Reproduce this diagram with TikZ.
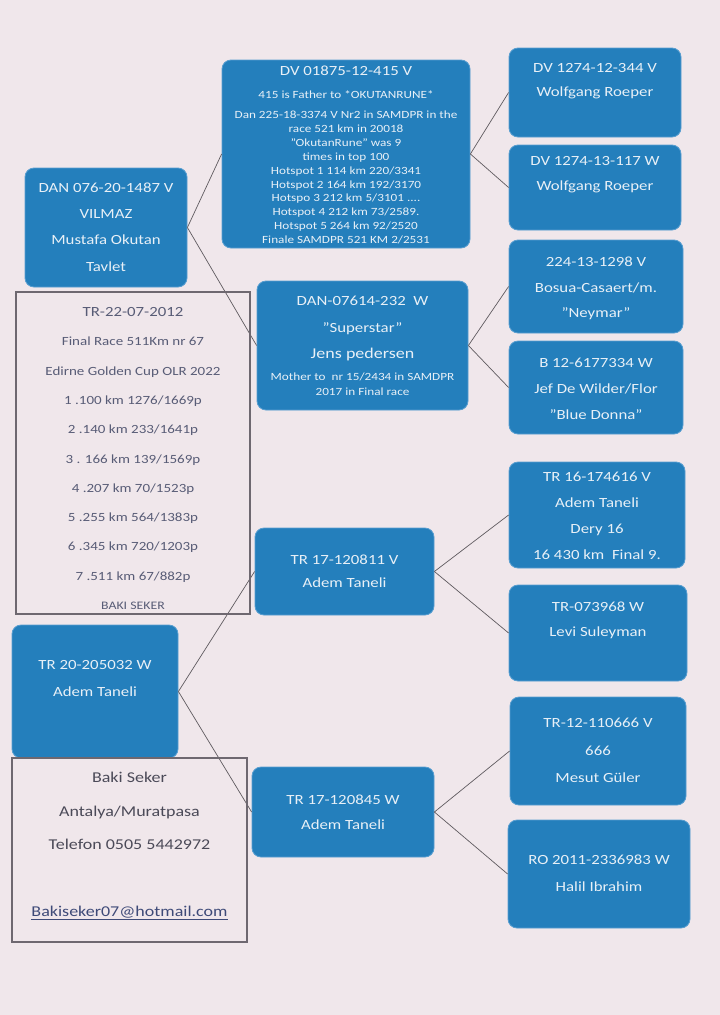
\documentclass[tikz,border=0pt]{standalone}
\usepackage{fontspec}
\setmainfont{Carlito}[FakeStretch=1.2]
\definecolor{paper}{RGB}{240,231,235}
\definecolor{boxblue}{RGB}{36,127,188}
\definecolor{boxrim}{RGB}{88,158,208}
\definecolor{boxtext}{RGB}{232,240,247}
\definecolor{inkgray}{RGB}{88,92,118}
\definecolor{contactgray}{RGB}{75,74,88}
\definecolor{mailblue}{RGB}{62,74,120}
\definecolor{framegray}{RGB}{110,104,112}
\definecolor{linkgray}{RGB}{95,90,95}
\begin{document}
\begin{tikzpicture}[x=1pt,y=-1pt,
  pbox/.style 2 args={rectangle,rounded corners=9pt,fill=boxblue,draw=boxrim,line width=0.8pt,
    minimum width=#1pt,minimum height=#2pt,inner sep=0pt},
  frame/.style 2 args={rectangle,draw=framegray,line width=1.1pt,
    minimum width=#1pt,minimum height=#2pt,inner sep=0pt},
  btext/.style={text=boxtext,align=center,inner sep=0pt,font=\fontsize{14}{#1}\selectfont},
  btext/.default=25,
  fine/.style={font=\fontsize{11}{#1}\selectfont},
  fine/.default=13.9,
  ink/.style={text=inkgray,align=center,inner sep=0pt,font=\fontsize{12.5}{29.3}\selectfont},
  link/.style={draw=linkgray,line width=0.7pt}]
  \useasboundingbox (0,0) rectangle (720,1015);
  \fill[paper] (0,0) rectangle (720,1015);

  % blue boxes
  \node[pbox={248}{188}] (tdv) at (346,154) {};
  \node[pbox={162}{119}] (dan076) at (106,227.5) {};
  \node[pbox={211}{129}] (dan07614) at (362.5,345.5) {};
  \node[pbox={172}{89}] (dv12) at (595,92.5) {};
  \node[pbox={172}{85}] (dv13) at (595,187.5) {};
  \node[pbox={174}{93}] (n224) at (596,286.5) {};
  \node[pbox={174}{93}] (b12) at (596,387.5) {};
  \node[pbox={176}{106}] (tr16) at (597,515) {};
  \node[pbox={178}{96}] (tr07) at (598,633) {};
  \node[pbox={179}{87}] (tr811) at (344.5,571.5) {};
  \node[pbox={166}{133}] (tr20) at (95,691.5) {};
  \node[pbox={182}{90}] (tr845) at (343,812) {};
  \node[pbox={176}{108}] (tr12) at (598,751) {};
  \node[pbox={182}{108}] (ro) at (599,874) {};

  % texts in the boxes
  \node[btext] (tdv-a) at (346,71) {DV 01875-12-415 V};
  \node[btext,fine] (tdv-b) at (346,167.5) {415 is Father to *OKUTANRUNE*\\[6pt]
    Dan 225-18-3374 V Nr2 in SAMDPR in the\\ race 521 km in 20018\\
    "OkutanRune" was 9\\ times in top 100\\ Hotspot 1 114 km 220/3341\\
    Hotspot 2 164 km 192/3170\\ Hotspo 3 212 km 5/3101 ....\\
    Hotspot 4 212 km 73/2589.\\ Hotspot 5 264 km 92/2520\\ Finale SAMDPR 521 KM 2/2531};
  \node[btext=26.3] (dan076-t) at (106,227) {DAN 076-20-1487 V\\ VILMAZ\\ Mustafa Okutan\\ Tavlet};
  \node[btext=26.5] (dan07614-a) at (362.5,328.5) {DAN-07614-232\ \ W\\ "Superstar"\\
    {\fontsize{15}{26.5}\selectfont Jens pedersen}};
  \node[btext,fine=15] (dan07614-b) at (362.5,384.5) {Mother to\ \ nr 15/2434 in SAMDPR\\ 2017 in Final race};
  \node[btext=24] (dv12-t) at (595,81) {DV 1274-12-344 V\\ Wolfgang Roeper};
  \node[btext=25] (dv13-t) at (595,174.5) {DV 1274-13-117 W\\ Wolfgang Roeper};
  \node[btext=25.5] (n224-t) at (596,288.5) {224-13-1298 V\\ Bosua-Casaert/m.\\ "Neymar"};
  \node[btext=26] (b12-t) at (596,389) {B 12-6177334 W\\ Jef De Wilder/Flor\\ "Blue Donna"};
  \node[btext=26] (tr16-t) at (597,516) {TR 16-174616 V\\ Adem Taneli\\ Dery 16\\ 16 430 km\ \ Final 9.};
  \node[btext=25] (tr07-t) at (598,620.5) {TR-073968 W\\ Levi Suleyman};
  \node[btext=23] (tr811-t) at (344.5,571.5) {TR 17-120811 V\\ Adem Taneli};
  \node[btext=27] (tr20-t) at (95,678.5) {TR 20-205032 W\\ Adem Taneli};
  \node[btext=25] (tr845-t) at (343,812.5) {TR 17-120845 W\\ Adem Taneli};
  \node[btext=27.5] (tr12-t) at (598,750.5) {TR-12-110666 V\\ 666\\ Mesut Güler};
  \node[btext=27] (ro-t) at (599,873.5) {RO 2011-2336983 W\\ Halil Ibrahim};

  \foreach \a/\b in {dan076/tdv,dan076/dan07614,tdv/dv12,tdv/dv13,dan07614/n224,dan07614/b12,
    tr20/tr811,tr20/tr845,tr811/tr16,tr811/tr07,tr845/tr12,tr845/ro}
    \draw[link] (\a.east) -- (\b.west);

  % framed notes
  \node[frame={234}{322}] (race) at (133,453) {};
  \node[ink] (race-t) at (133,458.5) {{\fontsize{14}{29.3}\selectfont TR-22-07-2012}\\
    Final Race 511Km nr 67\\ Edirne Golden Cup OLR 2022\\ 1 .100 km 1276/1669p\\
    2 .140 km 233/1641p\\ 3 . 166 km 139/1569p\\ 4 .207 km 70/1523p\\
    5 .255 km 564/1383p\\ 6 .345 km 720/1203p\\ 7 .511 km 67/882p\\
    {\fontsize{11.5}{29.3}\selectfont BAKI SEKER}};
  \node[frame={235}{184}] (contact) at (129.5,850) {};
  \node[ink,text=contactgray,font=\fontsize{15}{33.5}\selectfont] (contact-t) at (129.5,811)
    {Baki Seker\\ Antalya/Muratpasa\\ Telefon 0505 5442972};
  \node[ink,text=mailblue,font=\fontsize{15}{18}\selectfont] (mail) at (129.5,913)
    {\underline{Bakiseker07@hotmail.com}};
\end{tikzpicture}
\end{document}
